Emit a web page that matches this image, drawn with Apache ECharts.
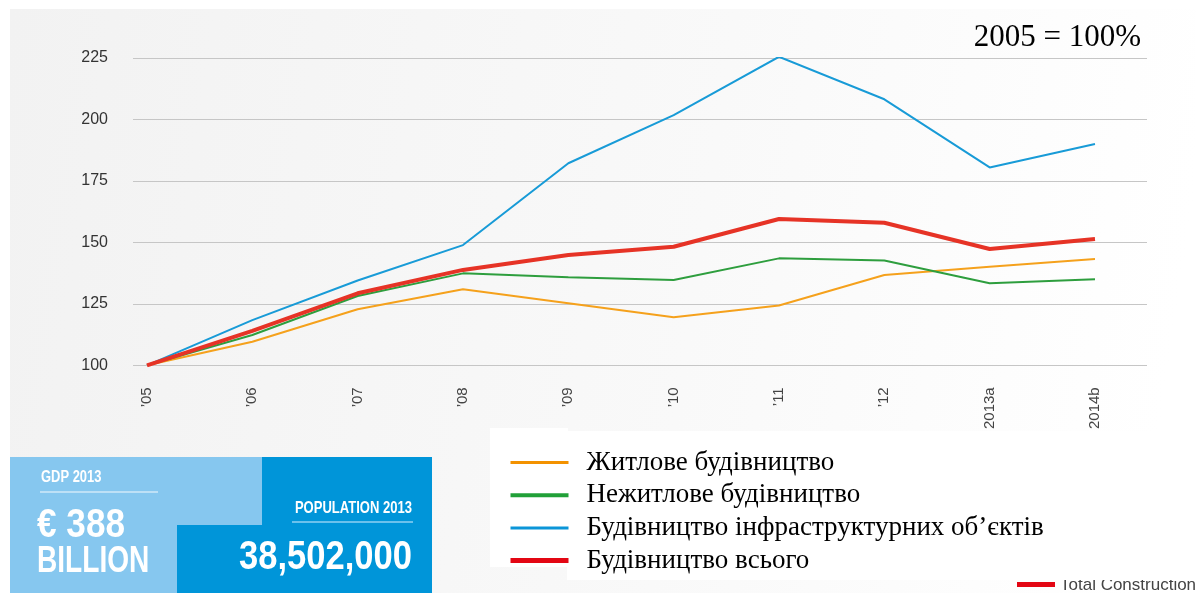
<!DOCTYPE html>
<html>
<head>
<meta charset="utf-8">
<script src="https://cdn.jsdelivr.net/npm/echarts@6/dist/echarts.min.js"></script>
<style>
html,body{margin:0;padding:0;background:#fff;}
#chart{width:1196px;height:593px;}
</style>
</head>
<body>
<div id="chart"></div>
<script>
const categories = ['\u201905','\u201906','\u201907','\u201908','\u201909','\u201910','\u201911','\u201912','2013a','2014b'];
const residential    = [100, 109.6, 122.8, 130.9, 125.2, 119.5, 124.3, 136.7, 140.1, 143.2];
const nonResidential = [100, 112.3, 128.2, 137.4, 135.8, 134.7, 143.5, 142.6, 133.4, 135.0];
const infrastructure = [100, 118.4, 134.5, 148.9, 182.2, 201.8, 225.5, 208.2, 180.5, 190.0];
const totalConstr    = [100, 114.0, 129.3, 138.8, 144.9, 148.2, 159.5, 158.0, 147.3, 151.4];
const yMin = 100, yMax = 225, yStep = 25;

const names = ['Житлове будівництво','Нежитлове будівництво','Будівництво інфраструктурних об’єктів','Будівництво всього'];
const lineColors = ['#f5a11c','#2e9e3e','#189bd7','#e63326'];
const legendColors = ['#f39200','#21a038','#0b95d8','#e30613'];
const lineWidths = [2, 2, 2, 4];
const legendWidths = [3, 4, 3, 5];
const seriesData = [residential, nonResidential, infrastructure, totalConstr];

const chart = echarts.init(document.getElementById('chart'), null, {renderer:'canvas'});

const boldFont = 'Liberation Sans';
const option = {
  animation: false,
  backgroundColor: '#ffffff',
  grid: [
    {left: 133, right: 49, top: 58, bottom: 227.7},
    {left: 147, right: 101, top: 58, bottom: 227.7}
  ],
  xAxis: [
    {gridIndex: 0, type: 'category', data: categories, show: false},
    {gridIndex: 1, type: 'category', data: categories, boundaryGap: false,
     axisLine: {show: false}, axisTick: {show: false},
     axisLabel: {rotate: 90, margin: 22, fontFamily: 'Liberation Sans', fontSize: 15, color: '#444'}}
  ],
  yAxis: [
    {gridIndex: 0, type: 'value', min: yMin, max: yMax, interval: yStep,
     axisLine: {show: false}, axisTick: {show: false},
     axisLabel: {margin: 25, fontFamily: 'Liberation Sans', fontSize: 16, color: '#333'},
     splitLine: {show: true, lineStyle: {color: '#c6c6c6', width: 1.2}}},
    {gridIndex: 1, type: 'value', min: yMin, max: yMax, interval: yStep, show: false,
     splitLine: {show: false}}
  ],
  legend: {
    orient: 'vertical', left: 503, top: 444, itemWidth: 58, itemHeight: 24, itemGap: 5.7,
    selectedMode: false,
    textStyle: {fontFamily: 'Liberation Serif', fontSize: 27, color: '#000', padding: [0,0,0,13], lineHeight: 24},
    data: names.map((n, i) => ({name: n,
      itemStyle: {color: 'rgba(0,0,0,0)', opacity: 0, borderWidth: 0},
      lineStyle: {color: legendColors[i], width: legendWidths[i]}}))
  },
  series: names.map((n, i) => ({
    name: n, type: 'line', xAxisIndex: 1, yAxisIndex: 1,
    data: seriesData[i], symbol: 'none', smooth: false,
    color: lineColors[i],
    lineStyle: {color: lineColors[i], width: lineWidths[i]},
    z: 2 + i
  })),
  graphic: [
    {type: 'rect', z: -10, silent: true, shape: {x: 10, y: 9, width: 1186, height: 584},
     style: {fill: {type: 'linear', x: 0, y: 0, x2: 1, y2: 0.3,
       colorStops: [{offset: 0, color: '#f2f2f2'}, {offset: 0.6, color: '#f9f9f9'}, {offset: 1, color: '#ffffff'}]}}},
    {type: 'text', z: 5, right: 1196 - 1141, top: 22,
     style: {text: '2005 = 100%', fontFamily: 'Liberation Serif', fontSize: 31, fill: '#000'}},
    // info boxes
    {type: 'rect', z: 1, shape: {x: 10, y: 457, width: 252, height: 136}, style: {fill: '#86c7ef'}},
    {type: 'rect', z: 1, shape: {x: 262, y: 457, width: 170, height: 136}, style: {fill: '#0095d9'}},
    {type: 'rect', z: 1, shape: {x: 177, y: 525, width: 86, height: 68}, style: {fill: '#0095d9'}},
    {type: 'text', z: 2, x: 41, y: 477.5, scaleX: 0.83,
     style: {text: 'GDP 2013', fontFamily: boldFont, fontWeight: 'bold', fontSize: 15.6, fill: '#fff', verticalAlign: 'middle'}},
    {type: 'line', z: 2, shape: {x1: 40, y1: 492, x2: 158, y2: 492}, style: {stroke: '#cfe9f9', lineWidth: 1.5}},
    {type: 'text', z: 2, x: 37, y: 526, scaleX: 0.88,
     style: {text: '€ 388', fontFamily: boldFont, fontWeight: 'bold', fontSize: 40, fill: '#fff', verticalAlign: 'middle'}},
    {type: 'text', z: 2, x: 37, y: 562.5, scaleX: 0.78,
     style: {text: 'BILLION', fontFamily: boldFont, fontWeight: 'bold', fontSize: 36, fill: '#fff', verticalAlign: 'middle'}},
    {type: 'text', z: 2, x: 412, y: 508, scaleX: 0.79,
     style: {text: 'POPULATION 2013', fontFamily: boldFont, fontWeight: 'bold', fontSize: 16.5, fill: '#fff', align: 'right', verticalAlign: 'middle'}},
    {type: 'line', z: 2, shape: {x1: 292, y1: 522, x2: 413, y2: 522}, style: {stroke: '#8fd0f2', lineWidth: 1.5}},
    {type: 'text', z: 2, x: 412, y: 557.5, scaleX: 0.843,
     style: {text: '38,502,000', fontFamily: boldFont, fontWeight: 'bold', fontSize: 41, fill: '#fff', align: 'right', verticalAlign: 'middle'}},
    // bottom-right partial legend of original
    {type: 'rect', z: 1, shape: {x: 1017, y: 582, width: 38, height: 5}, style: {fill: '#e30613'}},
    {type: 'text', z: 1, x: 1060, y: 585,
     style: {text: 'Total Construction', fontFamily: 'Liberation Sans', fontSize: 17, fill: '#444', verticalAlign: 'middle'}},
    // legend white boxes
    {type: 'rect', z: 3, shape: {x: 490, y: 428, width: 78, height: 139}, style: {fill: '#ffffff'}},
    {type: 'rect', z: 3, shape: {x: 567, y: 431, width: 629, height: 149}, style: {fill: '#ffffff'}}
  ]
};
chart.setOption(option);
</script>
</body>
</html>
